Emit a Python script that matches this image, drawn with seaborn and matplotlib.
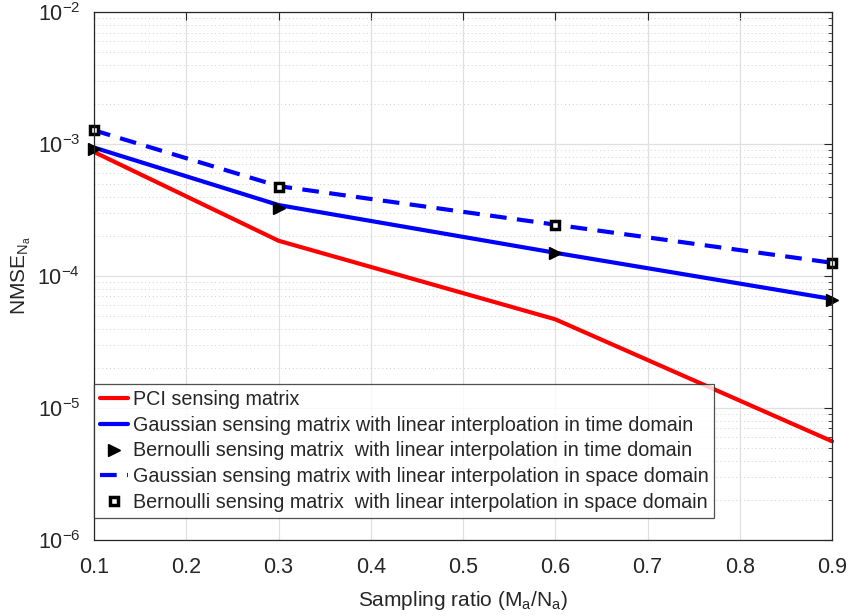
import matplotlib
matplotlib.use("Agg")
import matplotlib.pyplot as plt
import seaborn as sns
import numpy as np
from matplotlib.ticker import LogLocator, NullFormatter, FixedLocator, NullLocator

sns.set_style("white")
plt.rcParams['font.family'] = ['Liberation Sans', 'DejaVu Sans']
plt.rcParams['mathtext.fontset'] = 'custom'
plt.rcParams['mathtext.rm'] = 'Liberation Sans'
plt.rcParams['mathtext.it'] = 'Liberation Sans'

ratio = [0.1, 0.3, 0.6, 0.9]
pci = [8.7e-4, 1.85e-4, 4.7e-5, 5.6e-6]
gauss_time = [9.4e-4, 3.45e-4, 1.5e-4, 6.7e-5]
bern_time = [9.2e-4, 3.3e-4, 1.5e-4, 6.6e-5]
gauss_space = [1.27e-3, 4.8e-4, 2.45e-4, 1.26e-4]
bern_space = [1.27e-3, 4.75e-4, 2.45e-4, 1.25e-4]

labels = ["PCI sensing matrix",
          "Gaussian sensing matrix with linear interploation in time domain",
          "Bernoulli sensing matrix  with linear interpolation in time domain",
          "Gaussian sensing matrix with linear interpolation in space domain",
          "Bernoulli sensing matrix  with linear interpolation in space domain"]

fig = plt.figure(figsize=(8.52, 6.16), dpi=100)
ax = fig.add_axes([0.1105, 0.1234, 0.866, 0.857])

sns.lineplot(x=ratio, y=pci, ax=ax, color='#ff0000', lw=3, label=labels[0])
sns.lineplot(x=ratio, y=gauss_time, ax=ax, color='#0000ff', lw=3, label=labels[1])
sns.lineplot(x=ratio, y=bern_time, ax=ax, color='black', lw=0, marker='>', markersize=9,
             markeredgewidth=1, markeredgecolor='black', label=labels[2])
sns.lineplot(x=ratio, y=gauss_space, ax=ax, color='#0000ff', lw=3, dashes=False, label=labels[3])
ax.lines[-1].set_linestyle((0, (4, 2.5)))
sns.lineplot(x=ratio, y=bern_space, ax=ax, color='black', lw=0, marker='s', markersize=6,
             markerfacecolor='white', markeredgecolor='black', markeredgewidth=2.5, label=labels[4])

ax.set_yscale('log')
ax.set_xlim(0.1, 0.9)
ax.set_ylim(1e-6, 1e-2)
ax.set_xticks([0.1, 0.2, 0.3, 0.4, 0.5, 0.6, 0.7, 0.8, 0.9])
ax.set_xticklabels(['0.1', '0.2', '0.3', '0.4', '0.5', '0.6', '0.7', '0.8', '0.9'])
ax.xaxis.set_minor_locator(NullLocator())
ax.yaxis.set_major_locator(FixedLocator([1e-6, 1e-5, 1e-4, 1e-3, 1e-2]))
ax.yaxis.set_minor_locator(LogLocator(base=10, subs=np.arange(2, 10)))
ax.yaxis.set_minor_formatter(NullFormatter())

ax.grid(True, which='major', color='#e0e0e0', lw=0.9, ls='-')
ax.grid(True, which='minor', axis='y', color='#cfcfcf', lw=0.7, ls=(0, (1, 3)))
ax.grid(False, which='minor', axis='x')
ax.set_axisbelow(True)
ax.tick_params(which='both', direction='in', top=True, right=True, labelsize=15.5, colors='#262626')
ax.tick_params(axis='x', which='major', pad=12)
ax.tick_params(axis='y', which='major', pad=10)
ax.tick_params(which='major', length=6)
ax.tick_params(which='minor', length=3)
for s in ax.spines.values():
    s.set_color('#262626')
    s.set_linewidth(0.9)

ax.set_xlabel('Sampling ratio (M$_a$/N$_a$)', fontsize=15, color='#262626', labelpad=8)
ax.set_ylabel('NMSE$_{N_a}$', fontsize=15, color='#262626', labelpad=3)

for ln in ax.lines:
    ln.set_clip_on(False)

leg = ax.legend(loc='lower left', fontsize=14.2, frameon=True, fancybox=False,
                edgecolor='#262626', borderpad=0.3, labelspacing=0.34, handlelength=1.4,
                handletextpad=0.25, borderaxespad=0.0, bbox_to_anchor=(0.0, 0.042))
leg.get_frame().set_linewidth(0.9)

fig.savefig('out.png', dpi=100)
